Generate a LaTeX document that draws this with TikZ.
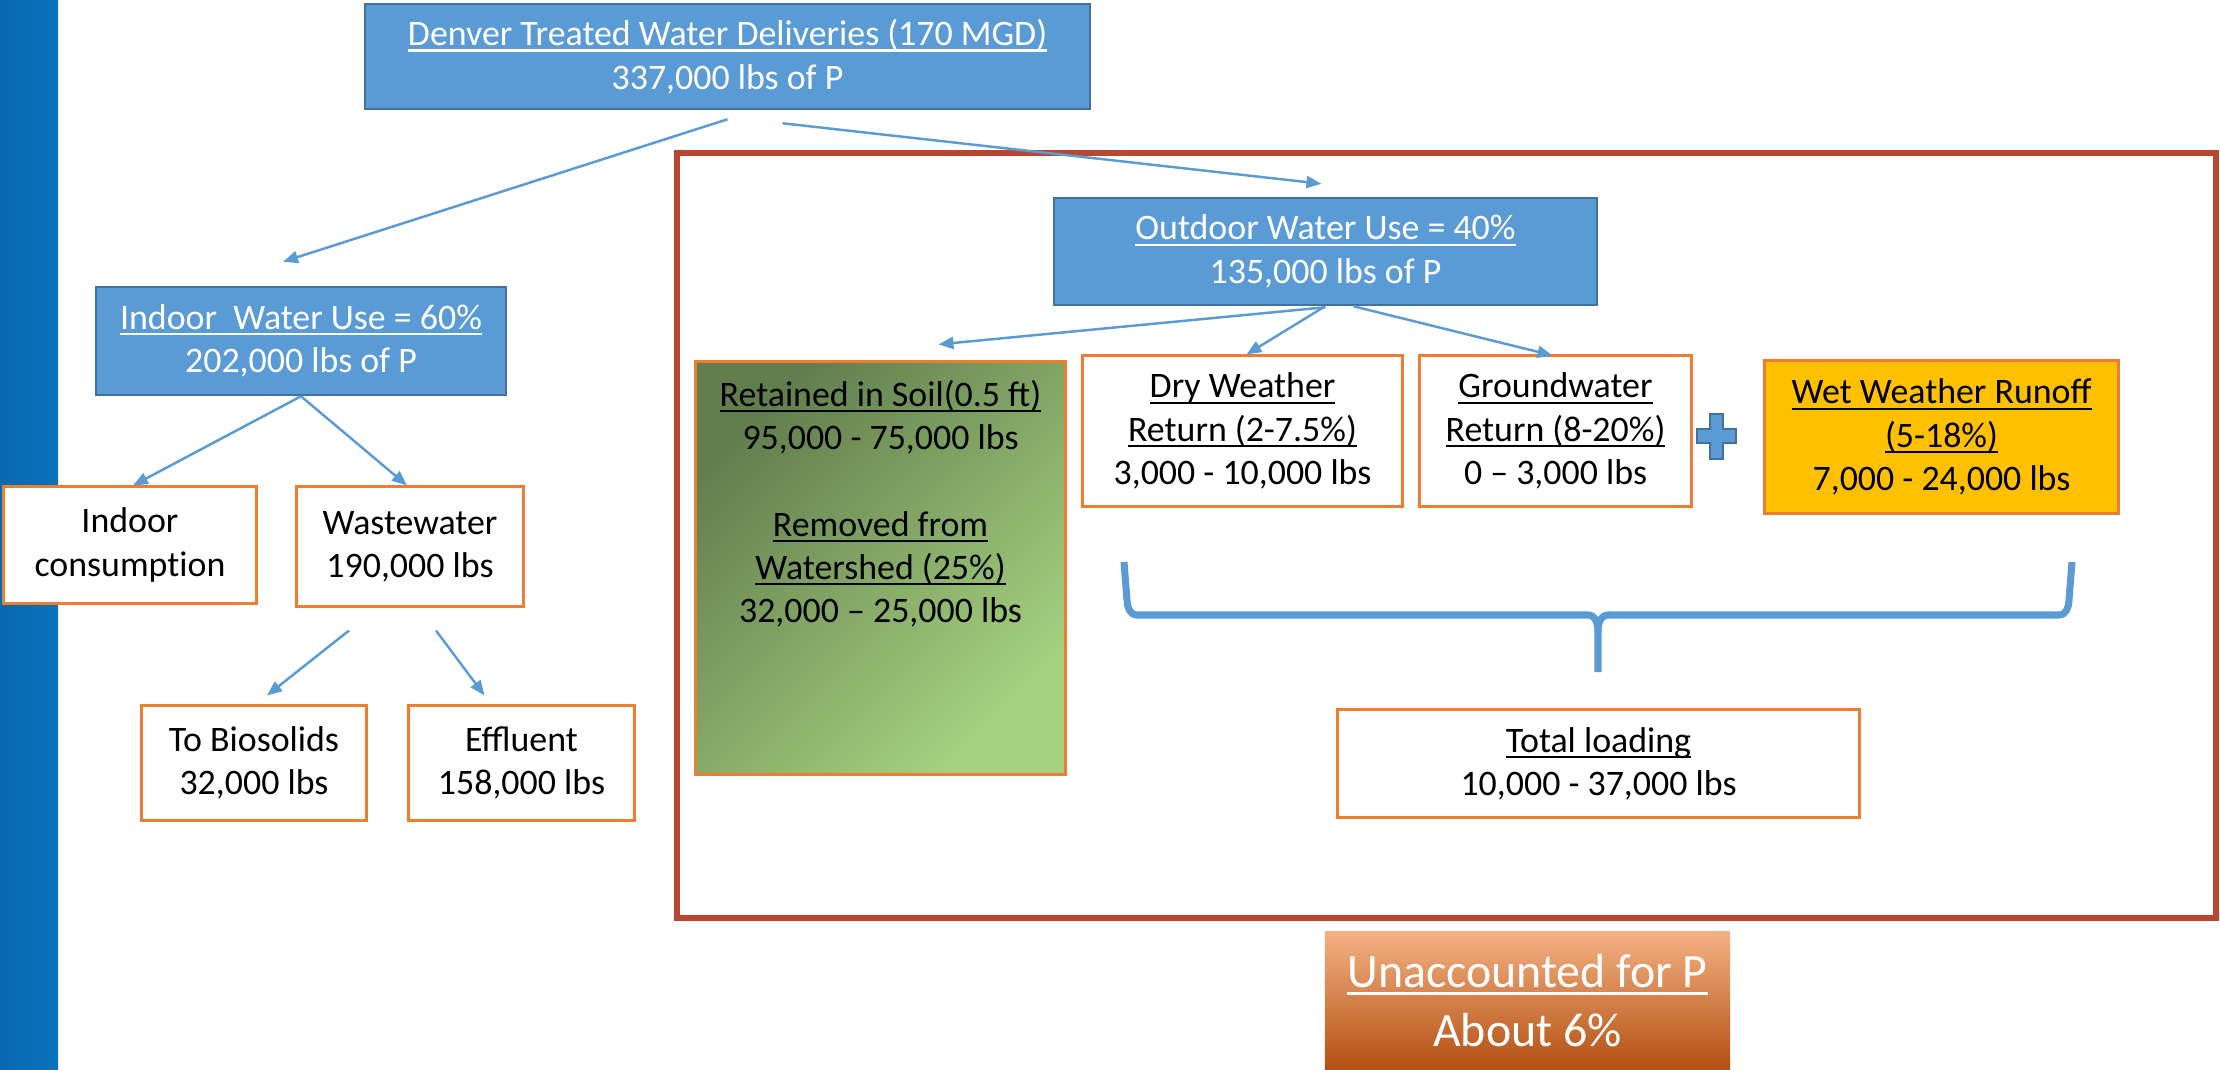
\documentclass[tikz,border=0pt]{standalone}
\usepackage{fontspec}
\setmainfont{Carlito}
\usetikzlibrary{arrows.meta,calc}

\definecolor{boxblue}{RGB}{91,155,213}
\definecolor{blueline}{RGB}{65,113,156}
\definecolor{boxorange}{RGB}{237,125,49}
\definecolor{runoffyellow}{RGB}{255,192,0}
\definecolor{framered}{RGB}{183,72,47}
\definecolor{soildark}{RGB}{98,126,78}
\definecolor{soillight}{RGB}{166,210,128}
\definecolor{stripblue}{RGB}{10,114,190}

\newcommand\uln[1]{\setbox0\hbox{#1}\rlap{\rule[-0.17em]{\wd0}{0.065em}}\box0}

\begin{document}
\begin{tikzpicture}[x=0.01cm, y=-0.01cm,
	bluebox/.style={draw=blueline, fill=boxblue, text=white, line width=0.7pt, inner sep=0pt, align=center, font=\fontsize{10.2}{12.4}\selectfont},
	orangebox/.style={draw=boxorange, fill=white, line width=0.85pt, inner sep=0pt, align=center, font=\fontsize{10.2}{12.3}\selectfont},
	link/.style={boxblue, line width=0.7pt, -{Triangle[length=0.15cm,width=0.12cm]}}]

	\useasboundingbox (0,0) rectangle (2220,1069);
	\fill[white] (0,0) rectangle (2220,1069);
	\shade[left color=stripblue!92!black, right color=stripblue] (0,0) rectangle (58,1069);

	% outdoor frame
	\draw[framered, line width=1.7pt] (677,153) rectangle (2216,918);

	% top and indoor side
	\node[bluebox, minimum width=7.25cm, minimum height=1.05cm] (den) at (727.5,56.5)
		{\uln{Denver Treated Water Deliveries (170 MGD)}\\337,000 lbs of P};
	\node[bluebox, minimum width=4.1cm, minimum height=1.08cm] (indoor) at (301,341)
		{\uln{Indoor~~Water Use = 60\%}\\202,000 lbs of P};
	\node[orangebox, minimum width=2.52cm, minimum height=1.16cm] (cons) at (130,545)
		{Indoor\\consumpt\kern0pt ion};
	\node[orangebox, minimum width=2.26cm, minimum height=1.19cm] (waste) at (410,546.5)
		{Wastewater\\190,000 lbs};
	\node[orangebox, minimum width=2.24cm, minimum height=1.14cm] (bio) at (254,763)
		{To Biosolids\\32,000 lbs};
	\node[orangebox, minimum width=2.25cm, minimum height=1.14cm] (eff) at (521.5,763)
		{Effluent\\158,000 lbs};

	% outdoor side
	\node[bluebox, minimum width=5.43cm, minimum height=1.07cm] (outdoor) at (1325.5,251.5)
		{\uln{Outdoor Water Use = 40\%}\\135,000 lbs of P};
	\node[draw=boxorange, line width=0.85pt, top color=soildark, bottom color=soillight, shading angle=45,
		minimum width=3.69cm, minimum height=4.12cm, inner sep=0pt] (soil) at (880.5,568) {};
	\node[anchor=north, align=center, inner sep=0pt, font=\fontsize{10.2}{12.3}\selectfont] (soiltxt)
		at ($(soil.north)+(0,19)$)
		{\uln{Retained in Soil(0.5 ft)}\\95,000 - 75,000 lbs\\[12.3pt]\uln{Removed from}\\\uln{Watershed (25\%)}\\32,000 -- 25,000 lbs};
	\node[orangebox, minimum width=3.19cm, minimum height=1.5cm] (dry) at (1242.5,431)
		{\uln{Dry Weather}\\\uln{Return (2-7.5\%)}\\3,000 - 10,000 lbs};
	\node[orangebox, minimum width=2.71cm, minimum height=1.5cm] (gw) at (1555.5,431)
		{\uln{Groundwater}\\\uln{Return (8-20\%)}\\0 -- 3,000 lbs};
	\node[orangebox, fill=runoffyellow, minimum width=3.53cm, minimum height=1.52cm] (wet) at (1941.5,437)
		{\uln{Wet Weather Runoff}\\\uln{(5-18\%)}\\7,000 - 24,000 lbs};
	\node[orangebox, minimum width=5.21cm, minimum height=1.07cm] (total) at (1598.5,763.5)
		{\uln{Total loading}\\10,000 - 37,000 lbs};
	\node[top color={rgb,255:red,244;green,177;blue,131}, middle color={rgb,255:red,232;green,128;blue,58},
		bottom color={rgb,255:red,178;green,80;blue,18}, text=white, inner sep=0pt, align=center,
		minimum width=4.05cm, minimum height=1.37cm, font=\fontsize{13.6}{17}\selectfont] (unacc) at (1527.5,1000.5)
		{\uln{Unaccounted for P}\\About 6\%};

	% plus sign
	\draw[blueline, fill=boxblue, line width=0.6pt] (1710,414) -- (1723,414) -- (1723,429) -- (1736,429) -- (1736,443)
		-- (1723,443) -- (1723,459) -- (1710,459) -- (1710,443) -- (1697,443) -- (1697,429) -- (1710,429) -- cycle;

	% brace
	\draw[boxblue, line width=2pt, line join=round]
		(1124,562) -- (1127,600) to[out=-90,in=180] (1137,615) -- (1588,615) to[out=0,in=90] (1598,632) -- (1598,672);
	\draw[boxblue, line width=2pt, line join=round]
		(1598,632) to[out=90,in=180] (1608,615) -- (2059,615) to[out=0,in=-90] (2069,600) -- (2072,562);

	% arrows
	\draw[link] ($(den.south)+(0,9)$) -- ($(indoor.north)+(-18,-24)$);
	\draw[link] ($(den.south)+(55,13)$) -- ($(outdoor.north)+(-4,-13)$);
	\draw[link] ($(outdoor.south)+(0,1)$) -- ($(soil.north)+(58,-16)$);
	\draw[link] ($(outdoor.south)+(-2,1)$) -- ($(dry.north)+(4,0)$);
	\draw[link] ($(outdoor.south)+(28,0)$) -- ($(gw.north)+(-3,1)$);
	\draw[link] (indoor.south) -- ($(cons.north)+(3,0)$);
	\draw[link] (indoor.south) -- ($(waste.north)+(-3,0)$);
	\draw[link] ($(waste.south)+(-61,23)$) -- ($(bio.north)+(13,-9)$);
	\draw[link] ($(waste.south)+(26,23)$) -- ($(eff.north)+(-37,-9)$);

\end{tikzpicture}
\end{document}
